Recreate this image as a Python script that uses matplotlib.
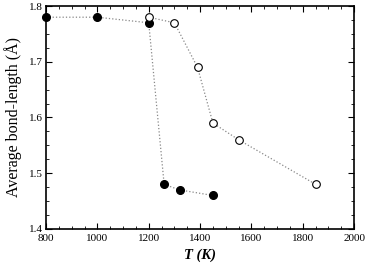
import matplotlib
matplotlib.use("Agg")
import matplotlib.pyplot as plt
from matplotlib.ticker import MultipleLocator

plt.rcParams['font.family'] = ['Liberation Serif', 'DejaVu Serif']

# filled circles
T_filled = [800, 1000, 1200, 1260, 1320, 1450]
bond_filled = [1.78, 1.78, 1.77, 1.48, 1.47, 1.46]
# open circles
T_open = [1200, 1300, 1390, 1450, 1550, 1850]
bond_open = [1.78, 1.77, 1.69, 1.59, 1.56, 1.48]

fig = plt.figure(figsize=(3.74, 2.64), dpi=100)
ax = fig.add_axes([0.123, 0.133, 0.824, 0.844])

ax.plot(T_filled, bond_filled, color="#888888", linestyle=":", linewidth=0.9,
        marker="o", markersize=5.5, markerfacecolor="black", markeredgecolor="black", clip_on=False, zorder=3)
ax.plot(T_open, bond_open, color="#888888", linestyle=":", linewidth=0.9,
        marker="o", markersize=5.5, markerfacecolor="white", markeredgecolor="black",
        markeredgewidth=0.8, clip_on=False, zorder=3)

ax.set_xlim(800, 2000)
ax.set_ylim(1.4, 1.8)
ax.xaxis.set_major_locator(MultipleLocator(200))
ax.xaxis.set_minor_locator(MultipleLocator(50))
ax.yaxis.set_major_locator(MultipleLocator(0.1))
ax.yaxis.set_minor_locator(MultipleLocator(0.025))
ax.tick_params(which="both", direction="in", top=True, right=True, labelsize=8)
ax.tick_params(axis="x", pad=4)
ax.tick_params(axis="y", pad=2)
ax.tick_params(which="major", length=4)
ax.tick_params(which="minor", length=2)
for s in ax.spines.values():
    s.set_linewidth(1.2)

ax.set_xlabel("T (K)", fontsize=10.5, style="italic", fontweight="bold", labelpad=4)
ax.set_ylabel("Average bond-length (Å)", fontsize=11.5, labelpad=5)

fig.savefig("out.png", dpi=100)
